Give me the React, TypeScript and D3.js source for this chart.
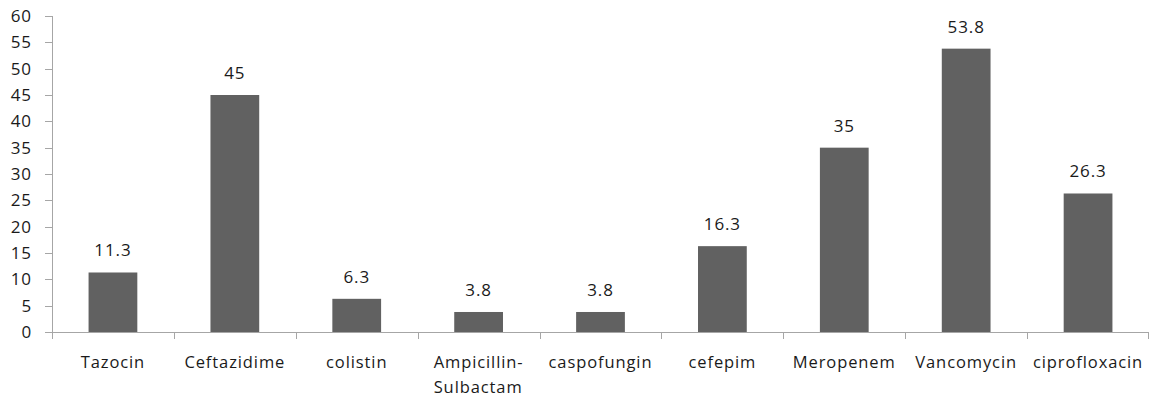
import React, { useEffect, useRef } from "react";
import * as d3 from "d3";

const categories: string[][] = [
  ["Tazocin"],
  ["Ceftazidime"],
  ["colistin"],
  ["Ampicillin-", "Sulbactam"],
  ["caspofungin"],
  ["cefepim"],
  ["Meropenem"],
  ["Vancomycin"],
  ["ciprofloxacin"],
];
const values: number[] = [11.3, 45, 6.3, 3.8, 3.8, 16.3, 35, 53.8, 26.3];
const yTicks: number[] = [0, 5, 10, 15, 20, 25, 30, 35, 40, 45, 50, 55, 60];

const W = 1156;
const H = 400;
const left = 52;
const right = 1149;
const top = 16;
const bottom = 332;
const font = "'Open Sans', sans-serif";
const ls = 0.9;

export default function App() {
  const keys = categories.map((c) => c.join(" "));
  const x = d3.scaleBand<string>().domain(keys).range([left, right]).paddingInner(0.6).paddingOuter(0.3);
  const band = d3.scaleBand<string>().domain(keys).range([left, right]);
  const y = d3.scaleLinear().domain([0, 60]).range([bottom, top]);
  const axisColor = "#a6a6a6";
  const textColor = "#1a1a1a";
  const labelsRef = useRef<SVGGElement>(null);

  useEffect(() => {
    // left-align wrapped lines with the first (centred) line
    const g = labelsRef.current;
    if (!g) return;
    g.querySelectorAll("text[data-multi]").forEach((t) => {
      const spans = t.querySelectorAll("tspan");
      const first = spans[0] as SVGTSpanElement;
      const bb = first.getBBox();
      spans.forEach((s, j) => {
        s.setAttribute("x", String(bb.x));
      });
      t.setAttribute("text-anchor", "start");
    });
  }, []);

  return (
    <svg width={W} height={H} style={{ position: "absolute", left: 0, top: 0, background: "#fff" }}>
      {/* y axis */}
      <line x1={left + 0.5} x2={left + 0.5} y1={top} y2={bottom} stroke={axisColor} />
      {yTicks.map((t) => (
        <g key={t}>
          <line x1={left - 7} x2={left} y1={Math.round(y(t)) + 0.5} y2={Math.round(y(t)) + 0.5} stroke={axisColor} />
          <text x={left - 20} y={y(t)} dy="0.36em" textAnchor="end" fontFamily={font} fontSize={17} letterSpacing={ls} fill={textColor}>
            {t}
          </text>
        </g>
      ))}
      {/* x axis */}
      <line x1={left} x2={right} y1={bottom + 0.5} y2={bottom + 0.5} stroke={axisColor} />
      {keys.map((k) => (
        <line key={"t" + k} x1={Math.round(band(k)!) + 0.5} x2={Math.round(band(k)!) + 0.5} y1={bottom} y2={bottom + 7} stroke={axisColor} />
      ))}
      <line x1={right - 0.5} x2={right - 0.5} y1={bottom} y2={bottom + 7} stroke={axisColor} />
      {/* bars */}
      {keys.map((k, i) => (
        <g key={"b" + k}>
          <rect x={x(k)} y={y(values[i])} width={x.bandwidth()} height={bottom - y(values[i])} fill="#616161" />
          <text
            x={x(k)! + x.bandwidth() / 2}
            y={y(values[i]) - 16}
            textAnchor="middle"
            fontFamily={font}
            fontSize={17}
            letterSpacing={ls}
            fill={textColor}
          >
            {values[i]}
          </text>
        </g>
      ))}
      {/* x labels */}
      <g ref={labelsRef}>
        {categories.map((lines, i) => (
          <text
            key={"l" + i}
            data-multi={lines.length > 1 ? "1" : undefined}
            x={band(keys[i])! + band.bandwidth() / 2}
            y={368}
            textAnchor="middle"
            fontFamily={font}
            fontSize={16.5}
            letterSpacing={ls}
            fill={textColor}
          >
            {lines.map((ln, j) => (
              <tspan key={j} x={band(keys[i])! + band.bandwidth() / 2} dy={j === 0 ? 0 : 25}>
                {ln}
              </tspan>
            ))}
          </text>
        ))}
      </g>
    </svg>
  );
}
